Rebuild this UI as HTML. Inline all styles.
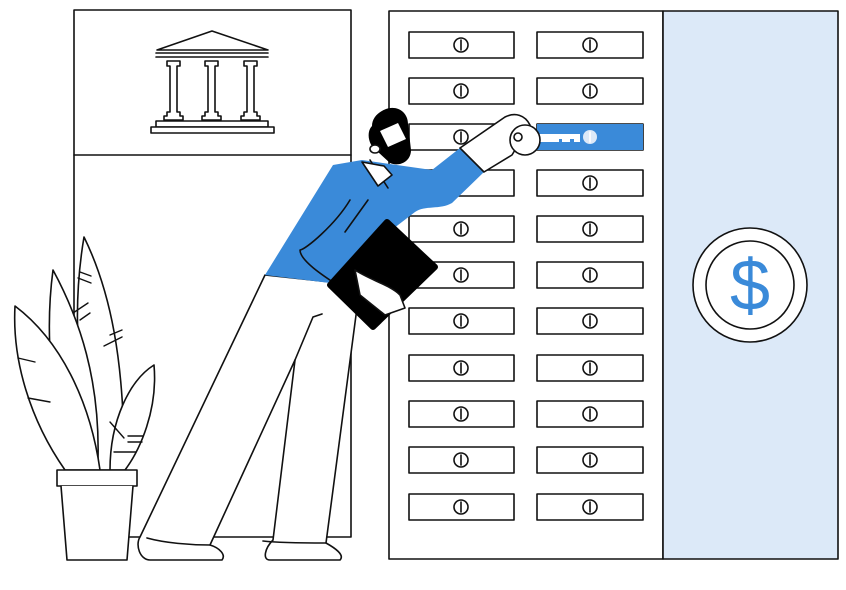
<!DOCTYPE html>
<html><head><meta charset="utf-8"><style>html,body{margin:0;padding:0;background:#fff}svg{display:block}</style></head>
<body>
<svg width="846" height="590" viewBox="0 0 846 590" xmlns="http://www.w3.org/2000/svg" fill="none" stroke="#111" stroke-width="1.6" stroke-linejoin="round" stroke-linecap="round">
<rect x="74" y="10" width="277" height="527" fill="#fff"/>
<line x1="74" y1="155" x2="351" y2="155"/>
<path d="M157 50 L212 31 L268 50 Z" fill="#fff"/>
<line x1="156" y1="53" x2="268" y2="53"/><line x1="156" y1="57" x2="268" y2="57"/>
<g fill="#fff">
<path d="M167 61h13v5h-3v46h3v4h3v4h-19v-4h3v-4h3v-46h-3z"/>
<path d="M205 61h13v5h-3v46h3v4h3v4h-19v-4h3v-4h3v-46h-3z"/>
<path d="M244 61h13v5h-3v46h3v4h3v4h-19v-4h3v-4h3v-46h-3z"/>
<rect x="156" y="121" width="112" height="6"/>
<rect x="151" y="127" width="123" height="6"/>
</g>
<rect x="389" y="11" width="274" height="548" fill="#fff"/>
<rect x="663" y="11" width="175" height="548" fill="#dce9f8"/>
<circle cx="750" cy="285" r="57" fill="#fff"/>
<circle cx="750" cy="285" r="44" fill="#fff"/>
<text x="750" y="310" text-anchor="middle" font-family="Liberation Sans, sans-serif" font-size="72" fill="#3a8ad9" stroke="none">$</text>
<g fill="#fff">
<g id="r"><rect x="409" y="32" width="105" height="26"/><circle cx="461" cy="45" r="7"/><line x1="461" y1="40" x2="461" y2="50"/>
<rect x="537" y="32" width="106" height="26"/><circle cx="590" cy="45" r="7"/><line x1="590" y1="40" x2="590" y2="50"/></g>
<use href="#r" y="46"/><use href="#r" y="92"/><use href="#r" y="138"/><use href="#r" y="184"/><use href="#r" y="230"/>
<use href="#r" y="276"/><use href="#r" y="323"/><use href="#r" y="369"/><use href="#r" y="415"/><use href="#r" y="462"/>
</g>
<rect x="537" y="124" width="106" height="26" fill="#3a8ad9" stroke="none"/>
<path d="M535 134 h45 v8 h-6 v-3 h-4 v3 h-8 v-3 h-3 v3 h-24z" fill="#fff" stroke="none"/>
<circle cx="590" cy="137" r="7" fill="#dce9f8" stroke="none"/>
<line x1="590" y1="132" x2="590" y2="142" stroke="#fff"/>
<g fill="#fff">
<path d="M84 237 C110 290 125 360 124 470 L100 470 C80 400 70 320 84 237Z"/>
<path d="M53 270 C80 320 100 380 98 460 L70 470 C50 400 45 330 53 270Z"/>
<path d="M15 306 C60 340 90 400 100 470 L65 470 C30 420 12 360 15 306Z"/>
<path d="M154 365 C158 410 140 450 125 470 L110 470 C110 420 130 380 154 365Z"/>
</g>
<g stroke-width="1.4">
<line x1="80" y1="272" x2="91" y2="276"/><line x1="78" y1="278" x2="91" y2="283"/>
<line x1="73" y1="313" x2="88" y2="303"/><line x1="80" y1="320" x2="90" y2="313"/>
<line x1="104" y1="346" x2="122" y2="337"/><line x1="110" y1="335" x2="122" y2="330"/>
<line x1="18" y1="358" x2="35" y2="362"/><line x1="28" y1="398" x2="50" y2="402"/>
<line x1="110" y1="422" x2="124" y2="438"/><line x1="128" y1="436" x2="143" y2="436"/><line x1="128" y1="442" x2="142" y2="442"/><line x1="114" y1="452" x2="136" y2="452"/>
</g>
<rect x="57" y="470" width="80" height="16" fill="#fff"/>
<path d="M61 486 L67 560 L127 560 L133 486" fill="#fff"/>
<path d="M265 275 L140 537 C135 545 140 560 150 560 L222 560 C226 555 220 548 210 545 L295 360 L273 540 C265 548 262 560 270 560 L340 560 C345 555 335 548 326 543 L358 300 L330 282 Z" fill="#fff"/>
<path d="M147 538 C165 543 190 545 210 545 M263 541 C280 543 305 543 326 543 M295 360 L313 317 L322 314"/>
<path d="M333 165 L362 160 L432 170 L460 148 L484 172 L452 203 C440 210 425 205 415 212 L385 235 L350 282 L330 283 L265 275 Z" fill="#3a8ad9" stroke="none"/>
<path d="M350 200 C335 225 305 250 300 250 C300 262 330 280 345 290"/>
<path d="M368 200 L345 232"/>
<path d="M370 160 L388 188"/>
<path d="M362 162 L378 186 L392 175 L384 166 Z" fill="#fff"/>
<path d="M460 148 L505 117 C515 112 525 115 530 125 L512 155 L484 172 Z" fill="#fff"/>
<circle cx="525" cy="140" r="15" fill="#fff"/>
<circle cx="518" cy="137" r="4" fill="#fff"/>
<path d="M386 109 C397 105 408 112 408 124 L411 150 C411 162 399 167 390 163 L378 152 C368 146 366 132 372 126 C372 118 378 112 386 109Z" fill="#000" stroke="none"/>
<path d="M380 131 L398 123 L406 139 L388 147 Z" fill="#fff" stroke="none"/>
<ellipse cx="375" cy="149" rx="5" ry="4" fill="#fff"/>
<path d="M387 222 L435 267 L373 327 L330 285 Z" fill="#000" stroke="#000" stroke-width="6"/>
<path d="M355 270 C370 280 390 285 400 295 L405 308 L385 315 L360 295 Z" fill="#fff"/>
</svg>
</body></html>
